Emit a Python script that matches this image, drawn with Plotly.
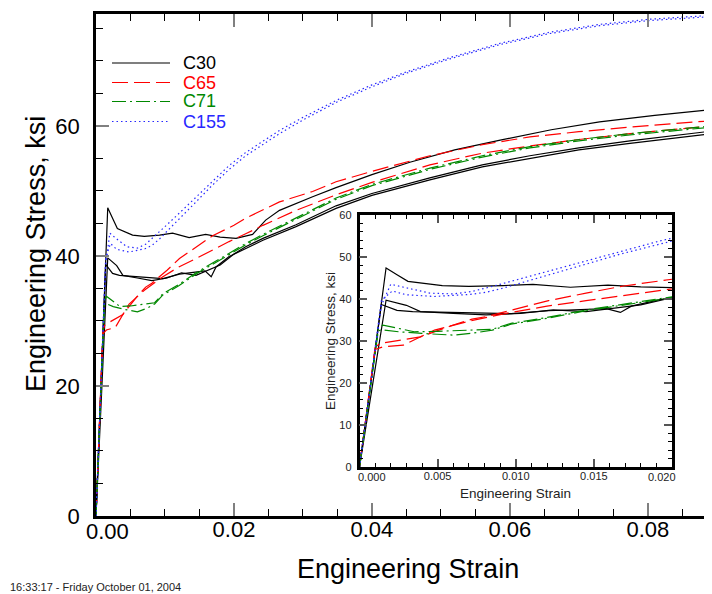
import plotly.graph_objects as go

# ---------------- data ----------------
c30_a_strain = [0, 0.0017, 0.0024, 0.0031, 0.0053, 0.0070, 0.0092, 0.0111, 0.0135, 0.0159, 0.0180, 0.0203, 0.0227,
                0.0246, 0.0266, 0.0290, 0.0314, 0.0348, 0.0400, 0.0455, 0.0520, 0.0586, 0.0660, 0.0730, 0.0810, 0.0893]
c30_a_stress = [0, 47.4, 45.8, 44.2, 43.2, 43.0, 43.2, 43.5, 42.8, 43.3, 42.9, 42.7, 43.3,
                45.5, 47.0, 48.1, 49.1, 50.5, 52.5, 54.4, 56.3, 57.8, 59.4, 60.6, 61.6, 62.5]

c30_b_strain = [0, 0.0014, 0.0024, 0.0034, 0.0058, 0.0081, 0.0097, 0.0121, 0.0145, 0.0158, 0.0167, 0.0174, 0.0193,
                0.0217, 0.0242, 0.0290, 0.0348, 0.0400, 0.0484, 0.0560, 0.0629, 0.0700, 0.0774, 0.0893]
c30_b_stress = [0, 38.7, 37.3, 37.0, 36.8, 36.6, 36.5, 37.2, 37.6, 37.7, 36.8, 38.3, 39.9,
                41.1, 42.4, 44.5, 47.3, 49.3, 51.7, 53.7, 55.0, 56.3, 57.3, 58.8]

c30_c_strain = [0, 0.0017, 0.0030, 0.0039, 0.0060, 0.0081, 0.0103, 0.0124, 0.0145, 0.0162, 0.0180, 0.0200,
                0.0217, 0.0242, 0.0290, 0.0348, 0.0400, 0.0484, 0.0560, 0.0629, 0.0700, 0.0774, 0.0893]
c30_c_stress = [0, 39.7, 38.5, 37.0, 36.6, 36.2, 36.6, 37.4, 37.0, 37.8, 38.6, 40.3,
                41.4, 42.7, 44.8, 47.7, 49.6, 52.0, 54.0, 55.4, 56.6, 57.7, 59.2]

c65_a_strain = [0, 0.0010, 0.0013, 0.0039, 0.0060, 0.0072, 0.0081, 0.0103, 0.0121, 0.0145, 0.0169, 0.0200,
                0.0217, 0.0266, 0.0314, 0.0348, 0.0400, 0.0484, 0.0560, 0.0629, 0.0700, 0.0774, 0.0893]
c65_a_stress = [0, 28.5, 29.4, 31.0, 33.8, 35.2, 35.8, 37.8, 39.6, 41.4, 43.1, 44.7,
                45.8, 48.3, 49.9, 51.4, 53.0, 55.4, 57.1, 58.3, 59.1, 59.8, 60.8]

c65_b_strain = [0, 0.0010, 0.0015, 0.0028, 0.0048, 0.0071, 0.0097, 0.0120, 0.0145, 0.0170, 0.0193, 0.0217,
                0.0242, 0.0290, 0.0348, 0.0400, 0.0484, 0.0560, 0.0629, 0.0700, 0.0774, 0.0893]
c65_b_stress = [0, 28.0, 28.6, 29.0, 32.6, 34.8, 36.8, 38.3, 39.6, 41.0, 42.2, 43.4,
                44.7, 47.0, 49.4, 51.3, 54.0, 55.8, 56.9, 57.9, 58.8, 60.0]

c71_a_strain = [0, 0.0012, 0.0015, 0.0025, 0.0035, 0.0050, 0.0070, 0.0085, 0.0097, 0.0120, 0.0145, 0.0170,
                0.0193, 0.0217, 0.0242, 0.0290, 0.0348, 0.0400, 0.0484, 0.0560, 0.0629, 0.0700, 0.0774, 0.0893]
c71_a_stress = [0, 33.0, 33.8, 33.0, 32.2, 32.3, 32.6, 32.8, 34.2, 35.6, 37.4, 39.0,
                40.5, 41.9, 43.3, 45.8, 48.9, 51.0, 53.5, 55.4, 56.8, 57.9, 58.8, 60.0]

c71_b_strain = [0, 0.0012, 0.0014, 0.0025, 0.0040, 0.0060, 0.0075, 0.0085, 0.0097, 0.0120, 0.0145, 0.0170,
                0.0193, 0.0217, 0.0242, 0.0290, 0.0348, 0.0400, 0.0484, 0.0560, 0.0629, 0.0700, 0.0774, 0.0893]
c71_b_stress = [0, 32.4, 32.7, 32.2, 31.8, 31.4, 32.0, 32.6, 34.0, 35.4, 37.2, 38.8,
                40.3, 41.7, 43.1, 45.6, 48.7, 50.8, 53.3, 55.2, 56.6, 57.7, 58.6, 59.8]

c155_a_strain = [0, 0.0014, 0.0020, 0.0030, 0.0045, 0.0060, 0.0072, 0.0085, 0.0103, 0.0124, 0.0145, 0.0167,
                 0.0193, 0.0217, 0.0242, 0.0266, 0.0300, 0.0350, 0.0400, 0.0450, 0.0513, 0.0586, 0.0658,
                 0.0730, 0.0803, 0.0893]
c155_a_stress = [0, 38.5, 43.5, 42.6, 41.4, 41.2, 41.8, 43.0, 44.8, 46.9, 49.0, 51.3,
                 53.9, 55.9, 57.6, 59.3, 61.3, 64.0, 66.3, 68.3, 70.5, 72.7, 74.4,
                 75.6, 76.4, 77.0]

c155_b_strain = [0, 0.0014, 0.0021, 0.0030, 0.0048, 0.0063, 0.0071, 0.0081, 0.0092, 0.0103, 0.0124, 0.0145,
                 0.0167, 0.0193, 0.0217, 0.0242, 0.0266, 0.0300, 0.0350, 0.0400, 0.0450, 0.0513, 0.0586,
                 0.0658, 0.0730, 0.0803, 0.0893]
c155_b_stress = [0, 39.7, 41.9, 41.0, 40.6, 40.9, 41.1, 41.6, 42.6, 43.8, 46.0, 48.3,
                 50.7, 53.3, 55.4, 57.1, 58.8, 60.9, 63.7, 66.0, 68.1, 70.3, 72.5,
                 74.2, 75.4, 76.2, 76.8]

series_names = ["C30", "C65", "C71", "C155"]
main_x_ticks = [0.0, 0.02, 0.04, 0.06, 0.08]
main_y_ticks = [0, 20, 40, 60]
inset_x_ticks = [0.000, 0.005, 0.010, 0.015, 0.020]
inset_y_ticks = [0, 10, 20, 30, 40, 50, 60]
timestamp = "16:33:17 - Friday October 01, 2004"

# ---------------- styling ----------------
FONT = "Liberation Sans, Arial, sans-serif"
styles = {
    "C30": dict(color="black", dash="solid"),
    "C65": dict(color="#ff0000", dash="16px,6px"),
    "C71": dict(color="#008800", dash="14px,4px,2px,4px"),
    "C155": dict(color="#2828ff", dash="1.5px,3px"),
}
curves = [
    ("C30", c30_a_strain, c30_a_stress),
    ("C30", c30_b_strain, c30_b_stress),
    ("C30", c30_c_strain, c30_c_stress),
    ("C65", c65_a_strain, c65_a_stress),
    ("C65", c65_b_strain, c65_b_stress),
    ("C71", c71_a_strain, c71_a_stress),
    ("C71", c71_b_strain, c71_b_stress),
    ("C155", c155_a_strain, c155_a_stress),
    ("C155", c155_b_strain, c155_b_stress),
]

# the page body has an 8px margin: work in screen coordinates, offset by OFF
OFF = 8
W, H = 712 - OFF, 594 - OFF
L, R, T, B = 96 - OFF, 712 - OFF, 14 - OFF, 516 - OFF


def pxx(x):  # screen x -> paper
    return (x - OFF - L) / (R - L)


def pyy(y):  # screen y -> paper
    return (B - (y - OFF)) / (B - T)


fig = go.Figure()
for name, xs, ys in curves:
    st = styles[name]
    for xa, ya in (("x", "y"), ("x2", "y2")):
        fig.add_trace(go.Scatter(x=xs, y=ys, mode="lines", xaxis=xa, yaxis=ya,
                                 line=dict(color=st["color"], dash=st["dash"], width=1.2),
                                 showlegend=False, hoverinfo="skip"))

# inset domains
ix0, ix1 = pxx(359.5), pxx(672)
iy0, iy1 = pyy(467), pyy(215)

axis_common = dict(showgrid=False, zeroline=False, showline=True, linecolor="black",
                   ticks="inside")
fig.update_layout(
    width=W, height=H,
    margin=dict(l=L, r=W - R, t=T, b=H - B, pad=0),
    paper_bgcolor="white", plot_bgcolor="white",
    font=dict(family=FONT, color="black"),
    showlegend=False,
    xaxis=dict(**axis_common, domain=[0, 1], range=[0, 0.0893], linewidth=2.5, mirror="ticks",
               tickmode="array", tickvals=main_x_ticks,
               ticktext=[""] + ["%.2f" % v for v in main_x_ticks[1:]],
               ticklen=13, tickwidth=2, tickcolor="#808080",
               tickfont=dict(size=22, family=FONT), ticklabelstandoff=-8,
               minor=dict(dtick=0.005, ticklen=7, tickwidth=1, tickcolor="black", ticks="inside")),
    yaxis=dict(**axis_common, domain=[0, 1], range=[0, 77.2], linewidth=2.5, mirror=False,
               tickmode="array", tickvals=main_y_ticks, ticktext=[str(v) for v in main_y_ticks],
               ticklen=13, tickwidth=2, tickcolor="#808080",
               tickfont=dict(size=22, family=FONT), ticklabelstandoff=9,
               minor=dict(dtick=5, ticklen=7, tickwidth=1, tickcolor="black", ticks="inside")),
    xaxis2=dict(**axis_common, domain=[ix0, ix1], anchor="y2", range=[0, 0.02], linewidth=2.5,
                mirror="ticks", tickmode="array", tickvals=inset_x_ticks,
                ticktext=[""] + ["%.3f" % v for v in inset_x_ticks[1:-1]] + [""],
                ticklen=8, tickwidth=1.5, tickcolor="#555555",
                tickfont=dict(size=11, family=FONT, color="#222222"), ticklabelstandoff=-3,
                minor=dict(dtick=0.001, ticklen=4, tickwidth=1, tickcolor="black", ticks="inside")),
    yaxis2=dict(**axis_common, domain=[iy0, iy1], anchor="x2", range=[0, 60], linewidth=2.5,
                mirror="ticks", tickmode="array", tickvals=inset_y_ticks,
                ticktext=[str(v) for v in inset_y_ticks],
                ticklen=8, tickwidth=1.5, tickcolor="#555555",
                tickfont=dict(size=11, family=FONT, color="#222222"), ticklabelstandoff=3,
                minor=dict(dtick=2, ticklen=4, tickwidth=1, tickcolor="black", ticks="inside")),
)

ann = []
# edge tick labels shifted inward (as in the reference)
ann.append(dict(text="0.00", xref="paper", yref="paper", x=pxx(107), y=pyy(531), showarrow=False,
                font=dict(size=22, family=FONT), xanchor="center", yanchor="middle"))
ann.append(dict(text="%.3f" % inset_x_ticks[0], xref="paper", yref="paper", x=pxx(371.5), y=pyy(476.5),
                showarrow=False, font=dict(size=11, family=FONT, color="#222222"),
                xanchor="center", yanchor="middle"))
ann.append(dict(text="%.3f" % inset_x_ticks[-1], xref="paper", yref="paper", x=pxx(661.5), y=pyy(476.5),
                showarrow=False, font=dict(size=11, family=FONT, color="#222222"),
                xanchor="center", yanchor="middle"))
# titles
ann.append(dict(text="Engineering Strain", xref="paper", yref="paper", x=pxx(408), y=pyy(569),
                showarrow=False, font=dict(size=27, family=FONT), xanchor="center", yanchor="middle"))
ann.append(dict(text="Engineering Stress, ksi", xref="paper", yref="paper", x=pxx(36), y=pyy(254),
                showarrow=False, font=dict(size=27, family=FONT), textangle=-90,
                xanchor="center", yanchor="middle"))
ann.append(dict(text="Engineering Strain", xref="paper", yref="paper", x=pxx(515.5), y=pyy(493),
                showarrow=False, font=dict(size=13.5, family=FONT, color="#222222"),
                xanchor="center", yanchor="middle"))
ann.append(dict(text="Engineering Stress, ksi", xref="paper", yref="paper", x=pxx(330), y=pyy(341),
                showarrow=False, font=dict(size=13.5, family=FONT, color="#222222"), textangle=-90,
                xanchor="center", yanchor="middle"))
ann.append(dict(text=timestamp, xref="paper", yref="paper", x=pxx(8), y=pyy(587),
                showarrow=False, font=dict(size=11, family=FONT, color="#222222"),
                xanchor="left", yanchor="middle"))

# legend (drawn manually)
shapes = []
rows = [63, 82.5, 101.5, 121.5]
for name, yrow in zip(series_names, rows):
    st = styles[name]
    shapes.append(dict(type="line", xref="paper", yref="paper", x0=pxx(112), x1=pxx(170),
                       y0=pyy(yrow), y1=pyy(yrow),
                       line=dict(color=st["color"], dash=st["dash"], width=1.2)))
    ann.append(dict(text=name, xref="paper", yref="paper", x=pxx(181), y=pyy(yrow),
                    showarrow=False, font=dict(size=18, family=FONT, color=st["color"]),
                    xanchor="left", yanchor="middle"))

fig.update_layout(annotations=ann, shapes=shapes)
fig.write_html("out.html")
